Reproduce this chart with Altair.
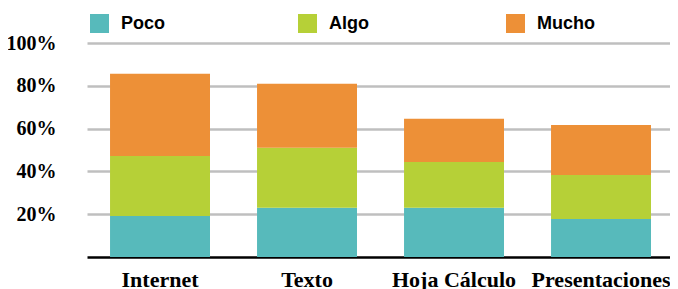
import altair as alt
import pandas as pd

categories = ["Internet", "Texto", "Hoja Cálculo", "Presentaciones"]
levels = ["Poco", "Algo", "Mucho"]
poco = [19.2, 23.0, 23.0, 17.7]
algo = [28.0, 28.0, 21.4, 20.6]
mucho = [38.4, 30.0, 20.2, 23.4]
colors = ["#57BABB", "#B6D037", "#ED9037"]
y_ticks = [20, 40, 60, 80, 100]

rows = []
for i, c in enumerate(categories):
    for j, (lvl, vals) in enumerate(zip(levels, [poco, algo, mucho])):
        rows.append({"cat": c, "nivel": lvl, "valor": vals[i], "idx": j})
df = pd.DataFrame(rows)

chart = alt.Chart(df).mark_bar().encode(
    x=alt.X("cat:N", sort=categories, title=None,
            scale=alt.Scale(paddingInner=0.32, paddingOuter=0.143, align=0.548),
            axis=alt.Axis(labelAngle=0, labelFont="Liberation Serif", labelFontSize=22,
                          labelFontWeight="bold", labelColor="#000", ticks=False, tickSize=0,
                          labelPadding=29, labelBaseline="alphabetic", labelOverlap=False,
                          labelLimit=300, labelBound=False, domainColor="#000",
                          domainWidth=2.5, grid=False)),
    y=alt.Y("valor:Q", stack="zero", title=None,
            scale=alt.Scale(domain=[0, 100], nice=False),
            axis=alt.Axis(values=y_ticks, labelExpr="datum.value + '%'", domain=False,
                          ticks=False, tickSize=0, labelPadding=31, labelFont="Liberation Serif",
                          labelFontSize=20, labelFontWeight="bold", labelColor="#000",
                          gridColor="#BFBFBF", gridWidth=2.5, gridOpacity=1)),
    color=alt.Color("nivel:N", sort=levels,
                    scale=alt.Scale(domain=levels, range=colors),
                    legend=alt.Legend(title=None, orient="none", legendX=3, legendY=-29,
                                      direction="horizontal", columns=3, gridAlign="all",
                                      columnPadding=119, symbolType="square", symbolSize=361,
                                      symbolStrokeWidth=0, symbolOpacity=1, labelOffset=12,
                                      labelFont="Liberation Sans", labelFontSize=18,
                                      labelFontWeight="bold", labelColor="#000", padding=0)),
    order=alt.Order("idx:Q", sort="ascending"),
).properties(
    width=583, height=214,
    autosize=alt.AutoSizeParams(type="none"),
    padding={"left": 79, "top": 35, "right": 0, "bottom": 40},
).configure_view(stroke=None).configure_axis(zindex=0)

chart.save("out.html", embed_options={"renderer": "svg", "actions": False})
